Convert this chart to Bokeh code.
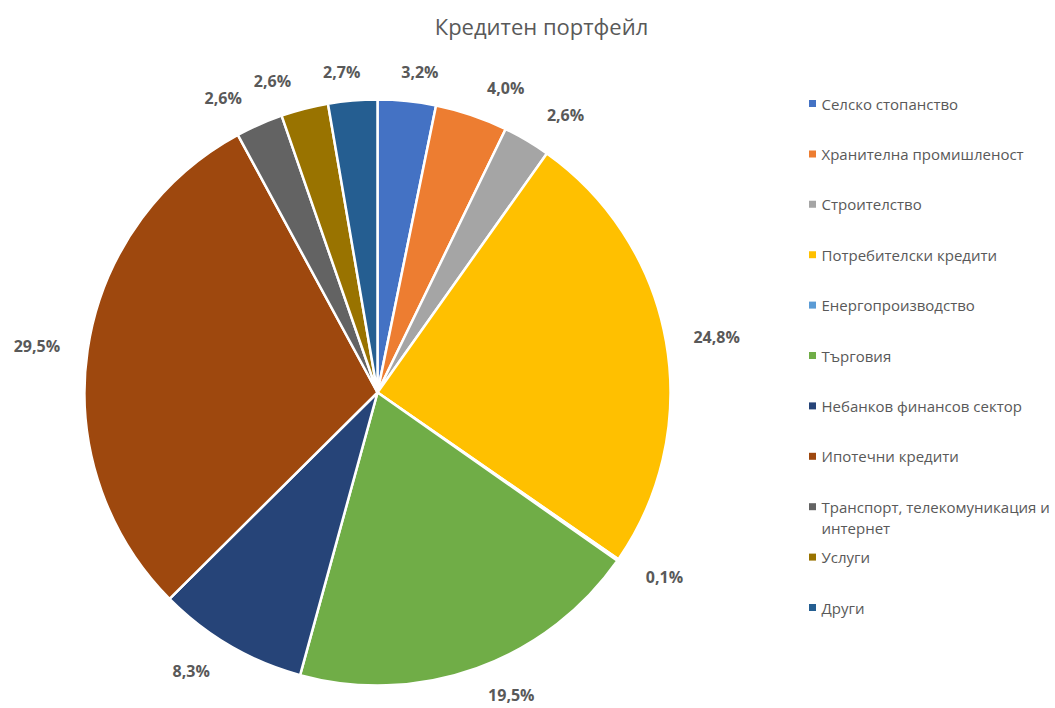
import math
from bokeh.plotting import figure
from bokeh.models import ColumnDataSource, Range1d
from bokeh.core.properties import value
from bokeh.embed import file_html
from bokeh.resources import INLINE

categories = ["Селско стопанство", "Хранителна промишленост", "Строителство",
              "Потребителски кредити", "Енергопроизводство", "Търговия",
              "Небанков финансов сектор", "Ипотечни кредити",
              "Транспорт, телекомуникация и\nинтернет", "Услуги", "Други"]
values = [3.2, 4.0, 2.6, 24.8, 0.1, 19.5, 8.3, 29.5, 2.6, 2.6, 2.7]
colors = ["#4472C4", "#ED7D31", "#A5A5A5", "#FFC000", "#5B9BD5", "#70AD47",
          "#264478", "#9E480E", "#636363", "#997300", "#255E91"]
title_text = "Кредитен портфейл"

W, H = 1055, 708
FONT = "Open Sans"
GRAY = "#595959"

# pie geometry (data units == pixels, y measured from bottom)
cx, cy, R = 377, H - 392, 293

total = sum(values)
starts, ends, lx, ly, labels = [], [], [], [], []
cum = 0.0
for v in values:
    a0 = cum / total * 2 * math.pi
    cum += v
    a1 = cum / total * 2 * math.pi
    starts.append(math.pi / 2 - a0)
    ends.append(math.pi / 2 - a1)
    mid = (a0 + a1) / 2
    s, c = math.sin(mid), math.cos(mid)
    half_w = 26 * min(1.0, abs(s) / 0.25) * (1 if s >= 0 else -1)
    lx.append(cx + 318 * s + half_w)
    ly.append(cy + 322 * c)
    labels.append(f"{v:.1f}%".replace(".", ","))

src = ColumnDataSource(dict(start=starts, end=ends, color=colors,
                            lx=lx, ly=ly, label=labels))

p = figure(width=W, height=H, x_range=Range1d(0, W), y_range=Range1d(0, H),
           output_backend="svg", toolbar_location=None, min_border=0)
p.axis.visible = False
p.grid.visible = False
p.outline_line_color = None
p.background_fill_color = "white"
p.border_fill_color = "white"

p.wedge(x=cx, y=cy, radius=R, start_angle="start", end_angle="end",
        direction="clock", fill_color="color", line_color="white",
        line_width=2.5, source=src)

p.text(x="lx", y="ly", text="label", source=src, text_align="center",
       text_baseline="middle", text_font=value(FONT), text_font_size="16px",
       text_font_style="bold", text_color=GRAY)

# title
p.text(x=[541], y=[H - 25], text=[title_text], text_align="center",
       text_baseline="middle", text_font=value(FONT), text_font_size="22px",
       text_color=GRAY)

# legend drawn manually
leg_x, leg_top, leg_step = 812, H - 103, 50.4
ly_leg = [leg_top - i * leg_step for i in range(len(categories))]
leg_src = ColumnDataSource(dict(y=ly_leg, ty=[y + 10 for y in ly_leg],
                                color=colors, name=categories))
p.scatter(x=leg_x, y="y", marker="square", size=7, fill_color="color",
          line_color=None, source=leg_src)
p.text(x=leg_x + 9, y="ty", text="name", source=leg_src, text_align="left",
       text_baseline="top", text_font=value(FONT), text_font_size="15px",
       text_color=GRAY, text_line_height=1.05)

open("out.html", "w").write(file_html(p, INLINE))
